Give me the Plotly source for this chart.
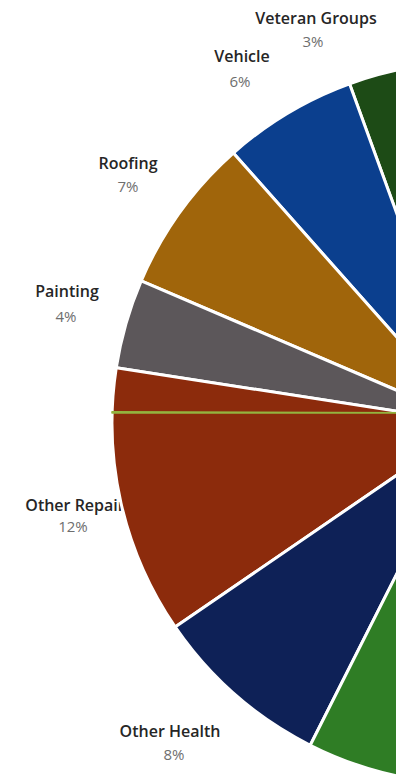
import plotly.graph_objects as go

# ---- data -------------------------------------------------------------
categories = ["Veteran Groups", "Vehicle", "Roofing", "Painting",
              "Other Repair", "Other Health", "Other", "All Other"]
shares = [3, 6, 7, 4, 12, 8, 5, 55]
slice_colors = ["#1d4b16", "#0b3f8e", "#a0650b", "#5c575a",
                "#8c2b0c", "#0e2157", "#2f7d25", "#7f7f7f"]
n_labelled = 6

# thin divider drawn across the left side of the pie
divider_shares = [0.05, 99.95]
divider_colors = ["#93b43f", "rgba(0,0,0,0)"]

# ---- layout geometry (pixels) -----------------------------------------
W, H = 960, 850            # canvas; only the left part is shown
CX, CY, R = 473, 423, 361  # pie centre and radius
DIV_CY = 413               # centre line of the divider pie
CROP_X = 396               # right-hand crop edge
# counterclockwise pies: rotation is the edge between slice 0 and slice 1
PIE_ROTATION = -20
DIVIDER_ROTATION = -90

name_xy = [(316, 20), (242, 58), (128, 165), (67, 293), (75, 507), (170, 733)]
pct_xy = [(313, 43), (240, 83), (128, 188), (66, 318), (73, 528), (174, 756)]


def domain(cx, cy, r):
    return dict(x=[(cx - r) / W, (cx + r) / W],
                y=[1 - (cy + r) / H, 1 - (cy - r) / H])


fig = go.Figure()

# category labels sit beneath the pie layer
fig.add_trace(go.Scatter(
    x=[p[0] for p in name_xy], y=[p[1] for p in name_xy],
    text=categories[:n_labelled], mode="text",
    textfont=dict(family="Open Sans", size=16, color="#262626", weight=600),
    hoverinfo="skip", showlegend=False))
fig.add_trace(go.Scatter(
    x=[p[0] for p in pct_xy], y=[p[1] for p in pct_xy],
    text=[f"{v}%" for v in shares[:n_labelled]], mode="text",
    textfont=dict(family="Open Sans", size=15, color="#6e6e6e"),
    hoverinfo="skip", showlegend=False))

fig.add_trace(go.Pie(
    labels=categories, values=shares, sort=False,
    direction="counterclockwise", rotation=PIE_ROTATION,
    marker=dict(colors=slice_colors, line=dict(color="white", width=3)),
    textinfo="none", hoverinfo="label+percent",
    domain=domain(CX, CY, R), showlegend=False))

fig.add_trace(go.Pie(
    values=divider_shares, sort=False,
    direction="counterclockwise", rotation=DIVIDER_ROTATION,
    marker=dict(colors=divider_colors,
                line=dict(color=divider_colors, width=[1.5, 0])),
    textinfo="none", hoverinfo="skip",
    domain=domain(CX, DIV_CY, R), showlegend=False))

fig.update_layout(
    width=W, height=H, autosize=False,
    margin=dict(l=0, r=0, t=0, b=0),
    paper_bgcolor="white", plot_bgcolor="white",
    xaxis=dict(range=[0, W], visible=False, fixedrange=True),
    yaxis=dict(range=[H, 0], visible=False, fixedrange=True),
    hovermode=False,
    shapes=[dict(type="rect", xref="paper", yref="paper",
                 x0=CROP_X / W, x1=1, y0=0, y1=1,
                 fillcolor="white", line=dict(width=0), layer="above")],
)

fig.write_html(
    "out.html",
    post_script="document.documentElement.style.overflow='hidden';"
                "document.body.style.overflow='hidden';")
